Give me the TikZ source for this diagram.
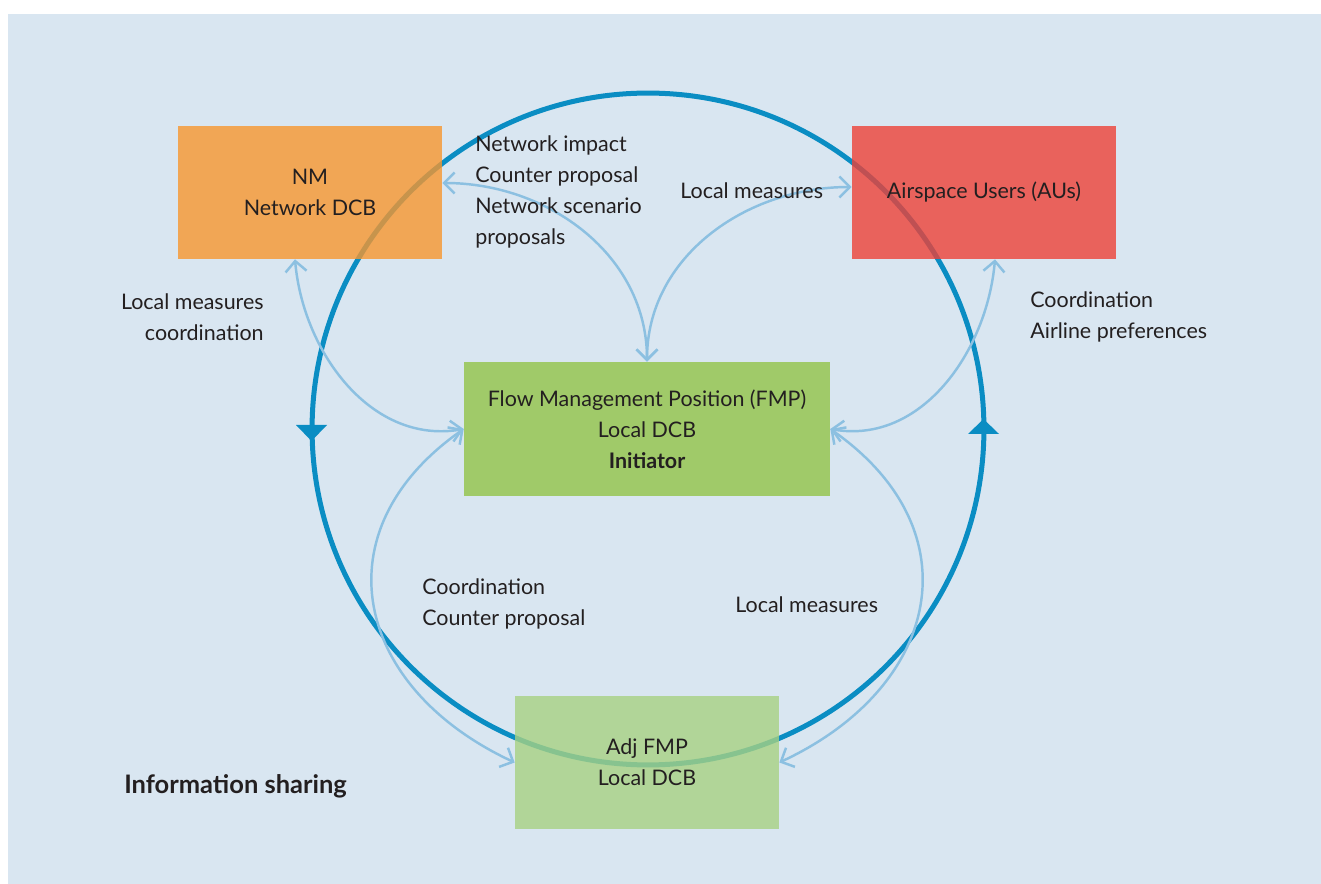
\documentclass[tikz,border=0pt]{standalone}
\usepackage{fontspec}
\setmainfont{Lato}
\usetikzlibrary{arrows.meta, positioning}
\usepackage{xcolor}
\definecolor{panelblue}{HTML}{D9E6F1}
\definecolor{ringblue}{HTML}{0A8DC3}
\definecolor{linkblue}{HTML}{8CC0E1}
\definecolor{nmorange}{HTML}{F7962F}
\definecolor{aured}{HTML}{ED4137}
\definecolor{fmpgreen}{HTML}{92C448}
\definecolor{adjgreen}{HTML}{A7D182}
\definecolor{cardtext}{HTML}{231F20}
\newcommand{\lblfont}{\fontsize{12.2}{17.6}\selectfont}

\begin{document}
\begin{tikzpicture}[x=0.02cm, y=0.02cm,
      actor/.style={rectangle, fill opacity=0.8, text opacity=1, text=cardtext, minimum width=5.28cm, minimum height=2.66cm, align=center, font=\lblfont},
      lbl/.style={inner sep=0pt, text=cardtext, font=\lblfont},
      link/.style={<->, >={Straight Barb[length=6pt, width=12pt]}, line width=1.4pt, linkblue},
    ]
    \useasboundingbox (0,0) rectangle (1321,-884);
    \fill[panelblue] (8,-14) rectangle (1321,-884);

    % information sharing ring
    \draw[ringblue, line width=2.85pt] (648,-429) circle[radius=6.72cm];
    \fill[ringblue] (296,-425) -- (327,-425) -- (311.5,-441) -- cycle;
    \fill[ringblue] (968,-434) -- (999,-434) -- (983.5,-419) -- cycle;

    \node[actor, fill=nmorange] (nm) at (310,-192.5) {NM\\Network DCB};
    \node[actor, fill=aured] (au) at (984,-192.5) {Airspace Users (AUs)};
    \node[actor, fill=fmpgreen, minimum width=7.32cm, minimum height=2.68cm] (fmp) at (647,-429) {Flow Management Position (FMP)\\Local DCB\\\textbf{Initiator}};
    \node[actor, fill=adjgreen] (adj) at (647,-762.5) {Adj FMP\\Local DCB};

    \draw[link] ([xshift=-0.3cm]nm.south) to[out=-85, in=190] (fmp.west);
    \draw[link] ([yshift=0.19cm]nm.east) to[out=0, in=90] (fmp.north);
    \draw[link] ([yshift=0.11cm]au.west) to[out=180, in=90] (fmp.north);
    \draw[link] ([xshift=0.22cm]au.south) to[out=-95, in=-10] (fmp.east);
    \draw[link] (fmp.west) to[out=215, in=155, looseness=1.35] (adj.west);
    \draw[link] (fmp.east) to[out=-35, in=25, looseness=1.35] (adj.east);

    \node[lbl, anchor=west, align=left] (netlbl) at (475,-192) {Network impact\\Counter proposal\\Network scenario\\proposals};
    \node[lbl, anchor=west] (aulbl) at (680,-191) {Local measures};
    \node[lbl, anchor=east, align=right] (nmlbl) at (264,-317) {Local measures\\coordination};
    \node[lbl, anchor=west, align=left] (prflbl) at (1030,-317) {Coordination\\Airline preferences};
    \node[lbl, anchor=west, align=left] (coolbl) at (422,-604) {Coordination\\Counter proposal};
    \node[lbl, anchor=west] (adjlbl) at (735,-605) {Local measures};
    \node[lbl, anchor=west, font=\fontsize{14.5}{17}\selectfont\bfseries] (title) at (124,-786) {Information sharing};
  \end{tikzpicture}
\end{document}
